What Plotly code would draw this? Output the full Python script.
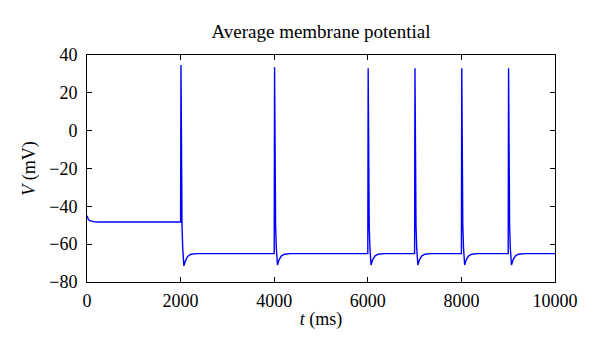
import plotly.graph_objects as go

# time (ms) and average membrane potential (mV)
time_ms = [
    0, 10, 30, 60, 100, 160, 250, 400, 1000, 1995,
    2000, 2008, 2016, 2022, 2030, 2045, 2070, 2100, 2150, 2220, 2350, 3000, 3995,
    4000, 4008, 4016, 4022, 4030, 4045, 4070, 4100, 4150, 4220, 4350, 5000, 5995,
    6000, 6008, 6016, 6022, 6030, 6045, 6070, 6100, 6150, 6220, 6350, 6995,
    7000, 7008, 7016, 7022, 7030, 7045, 7070, 7100, 7150, 7220, 7350, 7995,
    8000, 8008, 8016, 8022, 8030, 8045, 8070, 8100, 8150, 8220, 8350, 8995,
    9000, 9008, 9016, 9022, 9030, 9045, 9070, 9100, 9150, 9220, 9350, 10000,
]
voltage_mv = [
    -45.0, -46.0, -47.0, -47.6, -48.0, -48.2, -48.3, -48.3, -48.3, -48.3,
    -48.3, 34.7, 0.0, -40.0, -50.0, -62.0, -71.5, -69.0, -66.5, -65.3, -65.0, -65.0, -65.0,
    -65.0, 33.5, 0.0, -40.0, -50.0, -62.0, -71.0, -68.5, -66.3, -65.3, -65.0, -65.0, -65.0,
    -65.0, 33.0, 0.0, -40.0, -50.0, -62.0, -71.0, -68.5, -66.3, -65.3, -65.0, -65.0,
    -65.0, 33.0, 0.0, -40.0, -50.0, -62.0, -71.0, -68.5, -66.3, -65.3, -65.0, -65.0,
    -65.0, 33.0, 0.0, -40.0, -50.0, -62.0, -71.0, -68.5, -66.3, -65.3, -65.0, -65.0,
    -65.0, 33.0, 0.0, -40.0, -50.0, -62.0, -71.0, -68.5, -66.3, -65.3, -65.0, -65.0,
]

x_ticks = [0, 2000, 4000, 6000, 8000, 10000]
x_tick_labels = ["0", "2000", "4000", "6000", "8000", "10000"]
y_ticks = [-80, -60, -40, -20, 0, 20, 40]
y_tick_labels = ["\u221280", "\u221260", "\u221240", "\u221220", "0", "20", "40"]

serif = "Liberation Serif, Times New Roman, serif"

fig = go.Figure(go.Scatter(
    x=time_ms, y=voltage_mv, mode="lines",
    line=dict(color="#0000ff", width=1.4), showlegend=False,
))

axis_common = dict(
    showgrid=False, zeroline=False, showline=True, linecolor="#000000", linewidth=1,
    mirror="ticks", ticks="inside", ticklen=5, tickcolor="#000000",
    tickfont=dict(family=serif, size=18, color="#000000"),
    automargin=False,
)

# the page body adds an 8px offset, so the figure is sized 592x351
fig.update_layout(
    width=592, height=351,
    paper_bgcolor="white", plot_bgcolor="white",
    margin=dict(l=79, r=45, t=47, b=77),
    title=dict(text="Average membrane potential", x=0.5, xref="paper", xanchor="center",
               y=0.934, yanchor="middle",
               font=dict(family=serif, size=19, color="#000000"), automargin=False),
    xaxis=dict(range=[0, 10000], tickvals=x_ticks, ticktext=x_tick_labels,
               ticklabelstandoff=2,
               title=dict(text="<i>t</i> (ms)", font=dict(family=serif, size=18, color="#000000"), standoff=2),
               **axis_common),
    yaxis=dict(range=[-80, 40], tickvals=y_ticks, ticktext=y_tick_labels,
               ticklabelstandoff=5,
               title=dict(text="<i>V</i> (mV)", font=dict(family=serif, size=18, color="#000000"), standoff=8),
               **axis_common),
)

fig.write_html("out.html")
